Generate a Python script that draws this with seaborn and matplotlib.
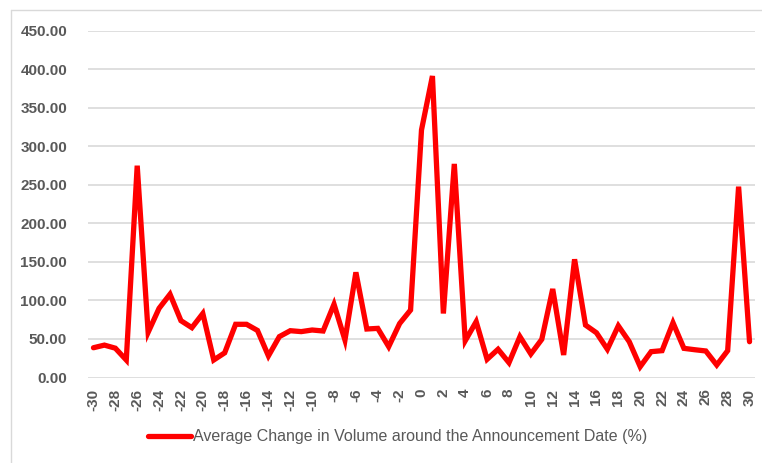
import pandas as pd
import matplotlib.pyplot as plt
import seaborn as sns
from matplotlib.lines import Line2D

# Days around the announcement date
days = list(range(-30, 31))

# Average change in volume (%)
volume_change = [
    38.6, 42.0, 38.0, 22.7, 274.7, 58.6, 89.7, 108.0, 73.7, 64.6,
    83.0, 22.7, 32.0, 69.0, 69.0, 61.0, 28.0, 53.0, 60.7, 59.5,
    61.6, 60.3, 95.0, 48.6, 136.4, 62.9, 63.7, 40.0, 70.0, 87.5,
    321.0, 391.0, 83.0, 277.0, 47.7, 72.4, 23.6, 36.6, 19.2, 53.0,
    30.5, 49.5, 114.8, 29.2, 153.3, 68.0, 58.0, 36.6, 67.0, 46.4,
    14.0, 33.5, 34.8, 71.0, 37.8, 36.0, 34.4, 16.2, 34.8, 247.5,
    46.4,
]

series_label = 'Average Change in Volume around the Announcement Date (%)'
y_ticks = [0, 50, 100, 150, 200, 250, 300, 350, 400, 450]
x_ticks = list(range(-30, 31, 2))

df = pd.DataFrame({'day': days, 'change': volume_change})

sns.set_style("white")
plt.rcParams['font.family'] = ['Liberation Sans', 'DejaVu Sans']

fig = plt.figure(figsize=(7.62, 4.63), dpi=100)
ax = fig.add_axes([88 / 762, 1 - 377.5 / 463, (755 - 88) / 762, 347 / 463])

sns.lineplot(data=df, x='day', y='change', color='#FF0000', linewidth=3.8,
             ax=ax, legend=False, solid_joinstyle='miter')

ax.set_xlim(-30.5, 30.5)
ax.set_ylim(0, 450)
ax.set_yticks(y_ticks)
ax.set_yticklabels([f'{v:.2f}' for v in y_ticks])
ax.set_xticks(x_ticks)
ax.set_xticklabels([str(v) for v in x_ticks], rotation=90)
ax.yaxis.grid(True, color='#D9D9D9', linewidth=1.2)
ax.set_axisbelow(True)
ax.tick_params(axis='both', length=0, colors='#595959', labelsize=11)
ax.tick_params(axis='x', pad=8)
ax.tick_params(axis='y', pad=15)
for lbl in ax.get_xticklabels() + ax.get_yticklabels():
    lbl.set_fontweight('bold')
for s in ax.spines.values():
    s.set_visible(False)
ax.set_xlabel('')
ax.set_ylabel('')

# legend below the plot
handle = Line2D([], [], color='#FF0000', linewidth=3.8)
fig.legend([handle], [series_label], loc='center', bbox_to_anchor=(0.522, 1 - 437 / 463),
           frameon=False, handlelength=2.7, handletextpad=0.1,
           prop={'size': 11.5}, labelcolor='#595959')

# chart area border (Excel style)
fig.add_artist(Line2D([10.5 / 762, 1], [1 - 9.5 / 463] * 2, color='#D9D9D9', linewidth=1,
                      transform=fig.transFigure))
fig.add_artist(Line2D([10.5 / 762] * 2, [0, 1 - 9.5 / 463], color='#D9D9D9', linewidth=1,
                      transform=fig.transFigure))

plt.savefig('out.png', dpi=100)
